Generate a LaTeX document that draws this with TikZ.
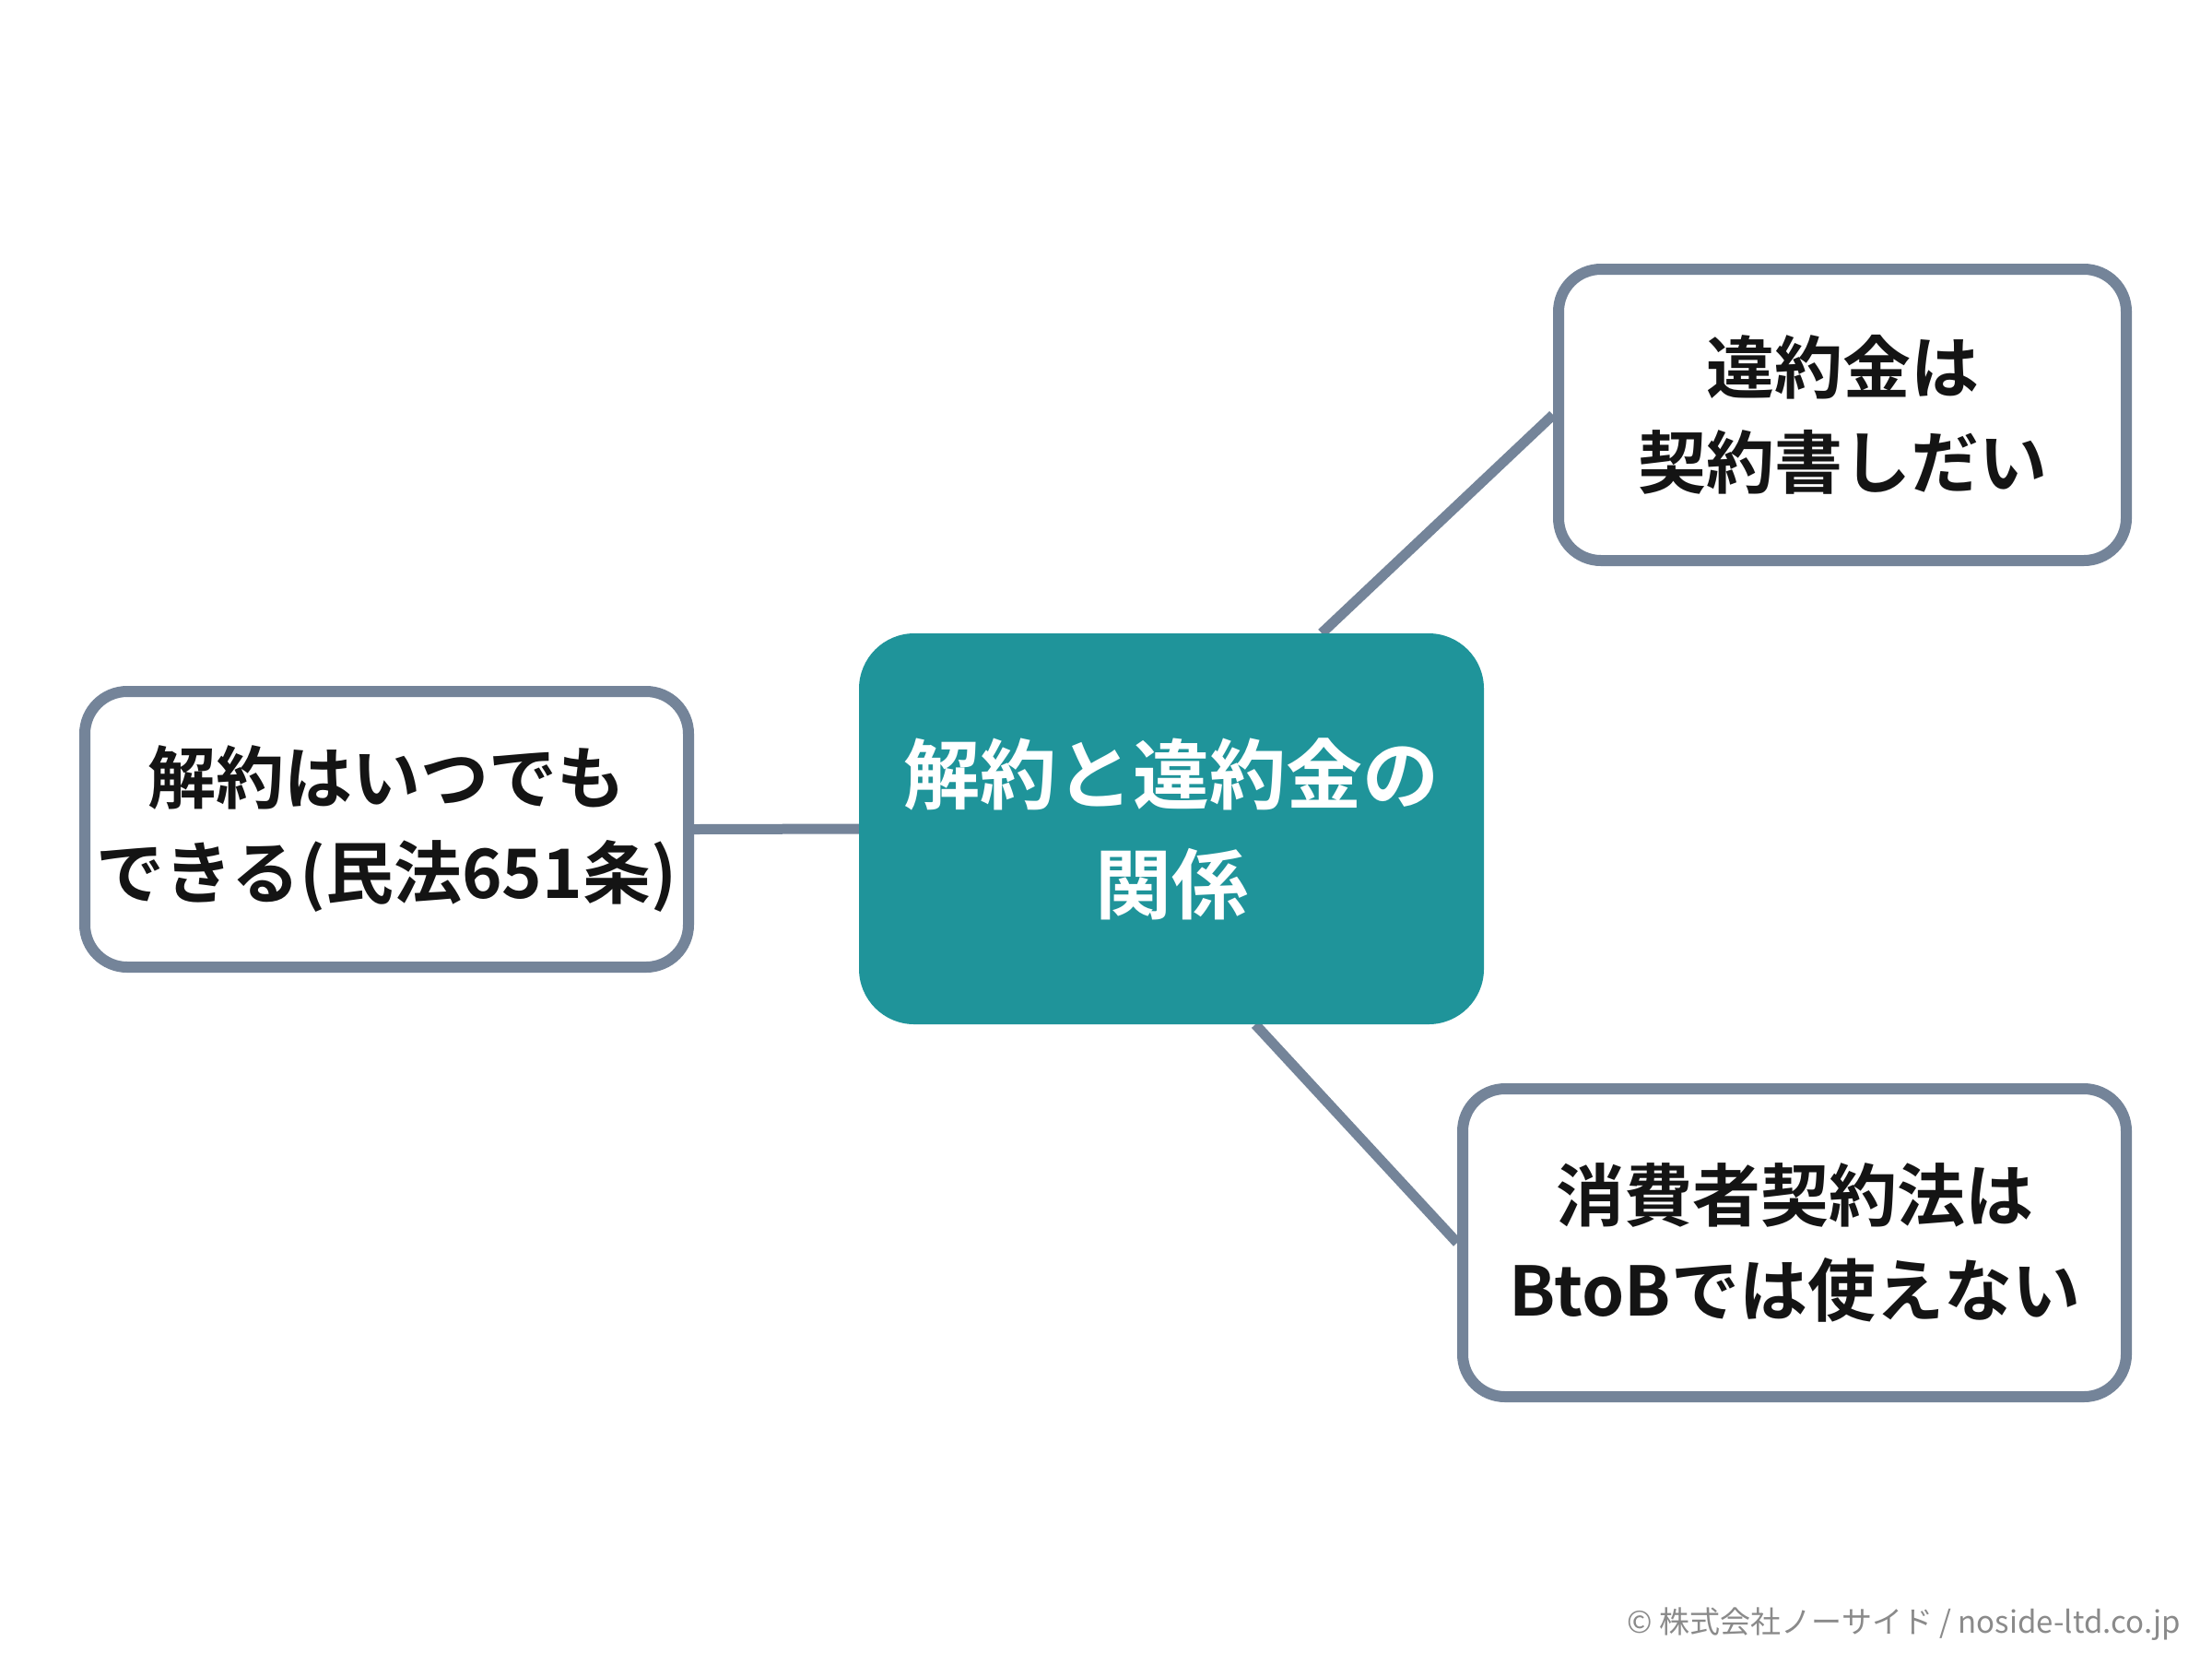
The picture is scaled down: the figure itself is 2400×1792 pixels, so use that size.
\documentclass[tikz,border=0pt]{standalone}
\usepackage{fontspec}
\setmainfont{Noto Sans CJK JP}
\newfontfamily\jpbold{Noto Sans CJK JP Bold}
\newfontfamily\jpreg{Noto Sans CJK JP}
\usetikzlibrary{calc,backgrounds}
\definecolor{teal1}{HTML}{1F949A}
\definecolor{bordergray}{HTML}{748499}
\definecolor{txtdark}{HTML}{141414}
\definecolor{footgray}{HTML}{8A8A8A}
\tikzset{
  subbox/.style={draw=bordergray, line width=12pt, fill=white, rounded corners=46pt,
    align=center, text=txtdark, font=\jpbold\fontsize{74}{103}\selectfont, inner sep=0pt},
  mainbox/.style={fill=teal1, rounded corners=60pt, align=center, text=white,
    font=\jpbold\fontsize{83}{119}\selectfont, inner sep=0pt,
    minimum width=678pt, minimum height=424pt},
  conn/.style={draw=bordergray, line width=11pt}
}
\begin{document}
\begin{tikzpicture}[x=1pt,y=-1pt]
\useasboundingbox (0,0) rectangle (2400,1792);
\node[mainbox] (c) at (1271,899) {解約と違約金の\\関係};
\node[subbox, minimum width=655pt, minimum height=299pt] (l) at (419.5,899.5) {解約はいつでも\\できる(民法651条)};
\node[subbox, minimum width=616pt, minimum height=316pt] (tr) at (1999,450) {違約金は\\契約書しだい};
\node[subbox, minimum width=720pt, minimum height=334pt] (br) at (1947,1348) {消費者契約法は\\BtoBでは使えない};
\begin{scope}[on background layer]
\fill[white] (0,0) rectangle (2400,1792);
\draw[conn] (l.east) -- (c.west);
\draw[conn] ($(c.north)+(163,0)$) -- (tr.west);
\draw[conn] ($(c.south)+(91,0)$) -- (br.west);
\end{scope}
\node[anchor=east, text=footgray, font=\jpreg\fontsize{33}{36}\selectfont, inner sep=0pt] (foot) at (2366,1762) {© 株式会社ノーサイド / noside-ltd.co.jp};
\end{tikzpicture}
\end{document}
